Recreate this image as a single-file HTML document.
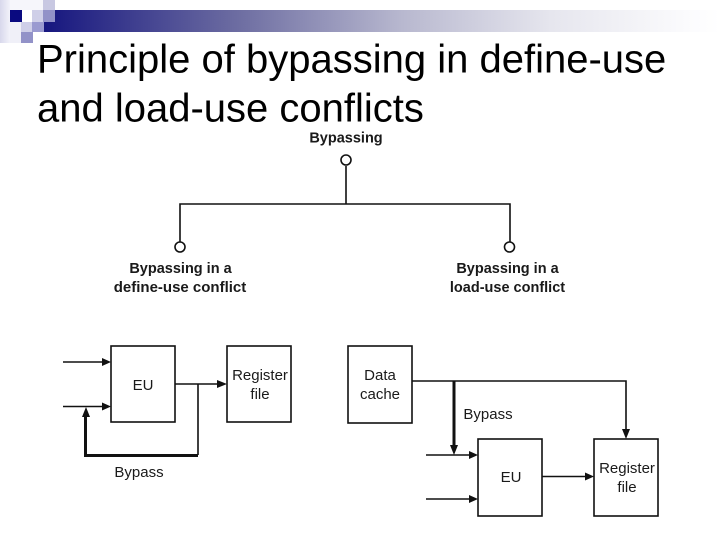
<!DOCTYPE html>
<html>
<head>
<meta charset="utf-8">
<style>
html,body{margin:0;padding:0;background:#fff;}
#p{position:relative;width:720px;height:540px;overflow:hidden;background:#fff;}
svg{position:absolute;left:0;top:0;}
.t{font-family:"Liberation Sans",sans-serif;fill:#000;}
.l{font-family:"Liberation Sans",sans-serif;fill:#1a1a1a;font-size:15px;text-anchor:middle;}
.b{font-family:"Liberation Sans",sans-serif;fill:#1a1a1a;font-size:14.500px;font-weight:bold;text-anchor:middle;}
</style>
</head>
<body>
<div id="p">
<svg width="720" height="540" viewBox="0 0 720 540" xmlns="http://www.w3.org/2000/svg">
<defs>
<linearGradient id="g" x1="0" y1="0" x2="1" y2="0">
<stop offset="0" stop-color="#16167f"/>
<stop offset="0.29" stop-color="#6e6ea2"/>
<stop offset="0.53" stop-color="#b8b8cf"/>
<stop offset="0.75" stop-color="#e6e6ee"/>
<stop offset="0.95" stop-color="#fbfbfd"/>
<stop offset="1" stop-color="#ffffff"/>
</linearGradient>
<linearGradient id="s" x1="0" y1="0" x2="1" y2="0">
<stop offset="0" stop-color="#d8d8ec"/>
<stop offset="1" stop-color="#f2f2fa"/>
</linearGradient>
</defs>
<rect x="44" y="10" width="676" height="22" fill="url(#g)"/>
<rect x="0" y="0" width="10" height="43" fill="url(#s)"/>
<rect x="10" y="0" width="33" height="10" fill="#f6f6fb"/>
<rect x="10" y="22" width="11" height="21" fill="#f0f0f8"/>
<rect x="43" y="0" width="12" height="10" fill="#c8c8e2"/>
<rect x="10" y="10" width="12" height="12" fill="#0a0a80"/>
<rect x="32" y="10" width="11" height="12" fill="#cfcfe8"/>
<rect x="43" y="10" width="12" height="12" fill="#9292c8"/>
<rect x="21" y="22" width="11" height="10" fill="#cfcfe8"/>
<rect x="32" y="22" width="12" height="10" fill="#9a9ad0"/>
<rect x="21" y="32" width="12" height="11" fill="#9292c8"/>

<text class="t" x="37" y="72.500" font-size="40">Principle of bypassing in deﬁne-use</text>
<text class="t" x="37" y="121.500" font-size="40">and load-use conﬂicts</text>

<g fill="none" stroke="#111" stroke-width="1.6">
<circle cx="346" cy="160" r="5" fill="#fff"/>
<circle cx="180" cy="247" r="5" fill="#fff"/>
<circle cx="509.500" cy="247" r="5" fill="#fff"/>
<path d="M346 166V204M180 242V204H510V242"/>
</g>
<text class="b" x="346" y="142.500">Bypassing</text>
<text class="b" x="180.500" y="273">Bypassing in a</text>
<text class="b" x="180" y="292" style="font-size:15px">define-use conflict</text>
<text class="b" x="507.500" y="273">Bypassing in a</text>
<text class="b" x="507.500" y="292">load-use conflict</text>

<g fill="none" stroke="#111" stroke-width="1.6">
<rect x="111" y="346" width="64" height="76"/>
<rect x="227" y="346" width="64" height="76"/>
<rect x="348" y="346" width="64" height="77"/>
<rect x="478" y="439" width="64" height="77"/>
<rect x="594" y="439" width="64" height="77"/>
<path d="M63 362H104M63 406.500H104M175 384H220M198 384V455"/>
<path d="M412 381H626V431M426 455H471M426 499H471M542 476.500H587"/>
<path d="M85.500 415V455.500H198" stroke-width="3"/>
<path d="M454 381V447" stroke-width="3"/>
</g>
<g fill="#111">
<path d="M111 362L102 358V366Z"/>
<path d="M111 406.500L102 402.500V410.500Z"/>
<path d="M227 384L217 380V388Z"/>
<path d="M86 407L82 417H90Z"/>
<path d="M454 455L450 445H458Z"/>
<path d="M478 455L469 451V459Z"/>
<path d="M478 499L469 495V503Z"/>
<path d="M594 476.500L585 472.500V480.500Z"/>
<path d="M626 439L622 429H630Z"/>
</g>
<text class="l" x="143" y="390">EU</text>
<text class="l" x="260" y="380">Register</text>
<text class="l" x="260" y="399">file</text>
<text class="l" x="380" y="380">Data</text>
<text class="l" x="380" y="399">cache</text>
<text class="l" x="139" y="477">Bypass</text>
<text class="l" x="488" y="419">Bypass</text>
<text class="l" x="511" y="482">EU</text>
<text class="l" x="627" y="473">Register</text>
<text class="l" x="627" y="492">file</text>
</svg>
</div>
</body>
</html>
